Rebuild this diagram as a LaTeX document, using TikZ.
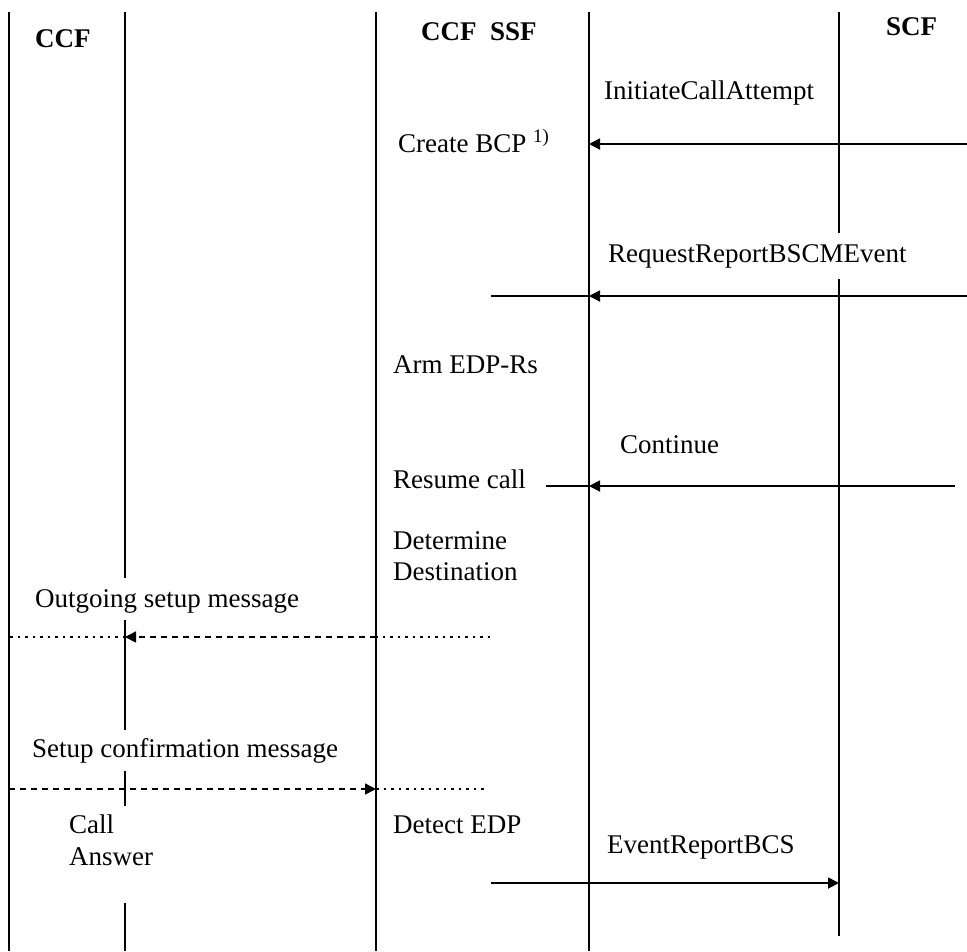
\documentclass[tikz,border=0pt]{standalone}
\usepackage{fontspec}
\setmainfont{Liberation Serif}
\usetikzlibrary{arrows.meta}

\begin{document}
\begin{tikzpicture}[x=1pt,y=-1pt,
    lifeline/.style={line width=1.8pt},
    msg/.style={line width=1.8pt},
    tip/.style={-{Triangle[length=11pt,width=11pt]}},
    dashpart/.style={line width=1.6pt, dash pattern=on 6pt off 5pt},
    dotpart/.style={line width=1.6pt, dash pattern=on 2.5pt off 5pt},
    lbl/.style={anchor=base west, inner sep=0pt, font=\fontsize{27}{31.5}\selectfont},
    lbltwo/.style={anchor=north west, inner sep=0pt, align=left, font=\fontsize{27}{31.5}\selectfont},
    hdr/.style={anchor=base west, inner sep=0pt, font=\fontsize{27}{31.5}\selectfont\bfseries}]
    \useasboundingbox (0,0) rectangle (967,951);
    % Lifelines
    \coordinate (ccf-t) at (9,12);     \coordinate (ccf-b) at (9,951);
    \coordinate (ssf-t) at (376,12);   \coordinate (ssf-b) at (376,951);
    \coordinate (bcp-t) at (589,12);   \coordinate (bcp-b) at (589,951);
    \draw[lifeline] (ccf-t) -- (ccf-b);
    \draw[lifeline] (ssf-t) -- (ssf-b);
    \draw[lifeline] (bcp-t) -- (bcp-b);
    % broken lifelines
    \draw[lifeline] (125,12) -- (125,578) (125,620) -- (125,730)
        (125,771) -- (125,806) (125,903) -- (125,951);
    \draw[lifeline] (839,12) -- (839,233) (839,279) -- (839,936);
    % Headers
    \node[hdr] (h-ccf) at (35,47) {CCF};
    \node[hdr] (h-ssf) at (421,40) {CCF\ \ SSF};
    \node[hdr] (h-scf) at (886,35) {SCF};
    % InitiateCallAttempt
    \node[lbl] (ica) at (604,99) {InitiateCallAttempt};
    \node[lbl] (bcp) at (398,152) {Create BCP \textsuperscript{1)}};
    \coordinate (ica-r) at (967,144);
    \coordinate (ica-l) at (589,144);
    \draw[msg,tip] (ica-r) -- (ica-l);
    % RequestReportBSCMEvent
    \node[lbl] (rrb) at (608,262) {RequestReportBSCMEvent};
    \coordinate (rrb-r) at (967,296);
    \coordinate (rrb-m) at (589,296);
    \coordinate (rrb-l) at (491,296);
    \draw[msg,tip] (rrb-r) -- (rrb-m);
    \draw[msg] (rrb-m) -- (rrb-l);
    \node[lbl] (arm) at (393,373) {Arm EDP-Rs};
    % Continue
    \node[lbl] (cont) at (620,453) {Continue};
    \node[lbl] (resume) at (393,488) {Resume call};
    \coordinate (cont-r) at (955,486);
    \coordinate (cont-m) at (589,486);
    \coordinate (cont-l) at (546,486);
    \draw[msg,tip] (cont-r) -- (cont-m);
    \draw[msg] (cont-m) -- (cont-l);
    \node[lbltwo] (dest) at (393,531) {Determine\\Destination};
    % Outgoing setup message
    \node[lbl] (out) at (35,607) {Outgoing setup message};
    \coordinate (out-r) at (490,637);
    \coordinate (out-s) at (376,637);
    \coordinate (out-e) at (125,637);
    \coordinate (out-l) at (9,637);
    \draw[dotpart] (out-r) -- (out-s);
    \draw[dashpart,tip] (out-s) -- (out-e);
    \draw[dotpart] (out-e) -- (out-l);
    % Setup confirmation message
    \node[lbl] (conf) at (32,757) {Setup confirmation message};
    \coordinate (conf-l) at (9,789);
    \coordinate (conf-e) at (376,789);
    \coordinate (conf-r) at (488,789);
    \draw[dashpart,tip] (conf-l) -- (conf-e);
    \draw[dotpart] (conf-e) -- (conf-r);
    \node[lbltwo] (ans) at (69,815) {Call\\Answer};
    \node[lbl] (det) at (393,833) {Detect EDP};
    % EventReportBCS
    \node[lbl] (erb) at (607,853) {EventReportBCS};
    \coordinate (erb-l) at (491,883);
    \coordinate (erb-r) at (839,883);
    \draw[msg,tip] (erb-l) -- (erb-r);
\end{tikzpicture}
\end{document}
